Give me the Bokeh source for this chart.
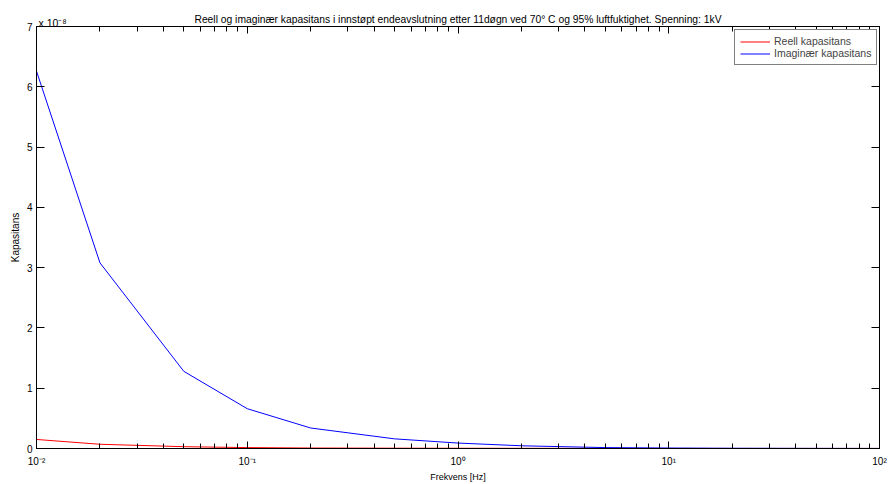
from bokeh.plotting import figure
from bokeh.models import (Range1d, LogAxis, LinearAxis, LogTicker, FixedTicker,
                          CustomJSTickFormatter, Label, Legend, LegendItem,
                          ColumnDataSource)
from bokeh.embed import file_html
from bokeh.resources import INLINE

# Measured capacitance (units of 1e-8 F) versus frequency
freq = [0.01, 0.02, 0.05, 0.1, 0.2, 0.5, 1, 2, 5, 10, 20, 50, 100]
real_cap = [0.15, 0.07, 0.03, 0.015, 0.008, 0.005, 0.004, 0.003, 0.002, 0.001, 0.001, 0.001, 0.001]
imag_cap = [6.26, 3.08, 1.28, 0.66, 0.34, 0.16, 0.09, 0.045, 0.015, 0.008, 0.004, 0.002, 0.001]

y_ticks = [0, 1, 2, 3, 4, 5, 6, 7]

FONT = "Liberation Sans"
W, H = 888, 484
BL, BR, BT, BB = 36, 9, 26, 34
FRAME_W, FRAME_H = W - BL - BR, H - BT - BB

title_text = ("Reell og imaginær kapasitans i innstøpt endeavslutning etter 11døgn "
              "ved 70° C og 95% luftfuktighet. Spenning: 1kV")

p = figure(width=W, height=H, x_axis_type="log",
           x_range=Range1d(0.01, 100), y_range=Range1d(0, 7),
           output_backend="svg", toolbar_location=None,
           min_border_left=BL, min_border_right=BR,
           min_border_top=BT, min_border_bottom=BB,
           background_fill_color="white", border_fill_color="white")

p.grid.visible = False
p.outline_line_color = "black"

sup_js = """
const sup = {'-':'\u207b','0':'\u2070','1':'\u00b9','2':'\u00b2','3':'\u00b3',
             '4':'\u2074','5':'\u2075','6':'\u2076','7':'\u2077','8':'\u2078','9':'\u2079'};
const e = Math.round(Math.log10(tick));
return '10' + String(e).split('').map(c => sup[c]).join('');
"""

# bottom axis
xa = p.xaxis[0]
xa.ticker = LogTicker(num_minor_ticks=10, desired_num_ticks=5)
xa.formatter = CustomJSTickFormatter(code=sup_js)
xa.axis_label = "Frekvens [Hz]"
xa.axis_label_text_font = FONT
xa.axis_label_text_font_size = "9px"
xa.axis_label_text_font_style = "normal"
xa.axis_label_text_color = "black"
xa.axis_label_standoff = 2
xa.major_label_text_font = FONT
xa.major_label_text_font_size = "10px"
xa.major_label_text_color = "black"
xa.major_label_standoff = 7
xa.major_tick_in = 7
xa.major_tick_out = 0
xa.minor_tick_in = 5
xa.minor_tick_out = 0

# left axis
ya = p.yaxis[0]
ya.ticker = FixedTicker(ticks=y_ticks)
ya.axis_label = "Kapasitans"
ya.axis_label_text_font = FONT
ya.axis_label_text_font_size = "10px"
ya.axis_label_text_font_style = "normal"
ya.axis_label_text_color = "black"
ya.axis_label_standoff = 3
ya.major_label_text_font = FONT
ya.major_label_text_font_size = "10px"
ya.major_label_text_color = "black"
ya.major_label_standoff = 4
ya.major_tick_in = 8
ya.major_tick_out = 0
ya.minor_tick_in = 0
ya.minor_tick_out = 0

blank = CustomJSTickFormatter(code="return '';")

# mirrored ticks on top and right
top = LogAxis(ticker=LogTicker(num_minor_ticks=10, desired_num_ticks=5), formatter=blank,
              major_tick_in=7, major_tick_out=0, minor_tick_in=5, minor_tick_out=0,
              major_label_standoff=0, major_label_text_font_size="1px")
p.add_layout(top, "above")
right = LinearAxis(ticker=FixedTicker(ticks=y_ticks), formatter=blank,
                   major_tick_in=8, major_tick_out=0, minor_tick_in=0, minor_tick_out=0,
                   major_label_standoff=0, major_label_text_font_size="1px")
p.add_layout(right, "right")

src = ColumnDataSource(dict(f=freq, re=real_cap, im=imag_cap))
r_re = p.line("f", "re", source=src, line_color="#ff0000", line_width=1)
r_im = p.line("f", "im", source=src, line_color="#0000ff", line_width=1)

legend = Legend(items=[LegendItem(label="Reell kapasitans", renderers=[r_re]),
                       LegendItem(label="Imaginær kapasitans", renderers=[r_im])],
                location=(FRAME_W - 3 - 142, FRAME_H - 7 - 34),
                padding=5, spacing=0,
                label_height=11, glyph_height=11, glyph_width=30, label_standoff=4,
                border_line_color="black", border_line_width=1,
                label_text_font=FONT, label_text_font_size="10.5px",
                background_fill_alpha=1.0)
p.add_layout(legend)

# exponent multiplier over the top-left corner of the axes
mult = Label(x=0.01, y=7, x_offset=2, y_offset=4,
             text="x 10\u207b\u2078", text_baseline="alphabetic", text_align="left",
             text_font=FONT, text_font_size="10.5px", text_color="black")
p.add_layout(mult, "above")

# chart title, centred over the axes
title = Label(x=1, y=7, y_offset=7,
              text=title_text, text_baseline="alphabetic", text_align="center",
              text_font=FONT, text_font_size="10.3px", text_color="black")
p.add_layout(title, "above")

open("out.html", "w").write(file_html(p, INLINE))
